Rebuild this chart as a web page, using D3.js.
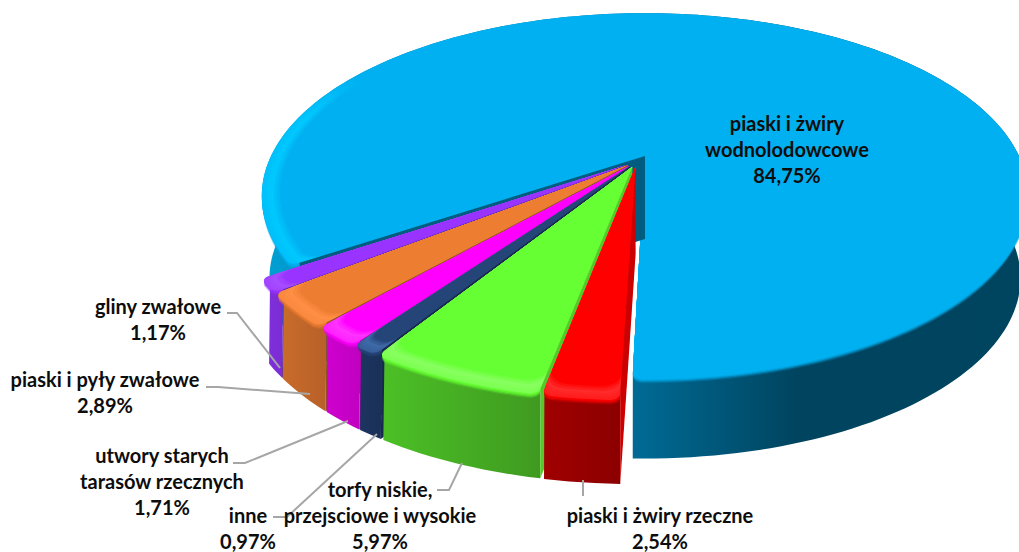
<!DOCTYPE html>
<html>
<head>
<meta charset="utf-8">
<script src="https://cdn.jsdelivr.net/npm/d3@7"></script>
<style>
  html, body { margin: 0; background: #fff; }
  text { font-family: Lato, "Open Sans", sans-serif; font-weight: 700; font-size: 20px; fill: #0d0d0d; }
</style>
</head>
<body>
<div id="chart"></div>
<script>
// clockwise from the front of the pie
const categories = [
  ['piaski i żwiry rzeczne'],
  ['torfy niskie,', 'przejsciowe i wysokie'],
  ['inne'],
  ['utwory starych', 'tarasów rzecznych'],
  ['piaski i pyły zwałowe'],
  ['gliny zwałowe'],
  ['piaski i żwiry', 'wodnolodowcowe']
];
const values = [2.54, 5.97, 0.97, 1.71, 2.89, 1.17, 84.75];
const valueLabels = ['2,54%', '5,97%', '0,97%', '1,71%', '2,89%', '1,17%', '84,75%'];
const topColors = ['#ff0000', '#66ff33', '#254579', '#ff00ff', '#ed7d31', '#9933ff', '#00b0f0'];
const rimColors = ['#ff2a2a', '#88ff60', '#3f6aa8', '#ff33ff', '#ff8f45', '#a64dff', '#00c8ff'];
const sideLeft = ['#a00000', '#4cc026', '#1c3560', '#d000d0', '#c96d2a', '#8230e0', '#00a0d4'];
const sideRight = ['#8c0000', '#3f9a20', '#1a3058', '#c000c0', '#b8602a', '#7a2cd0', '#004560'];
const wallColors = ['#cc0000', '#55c928', '#17294d', '#b000b0', '#8f5220', '#5a28a8', '#005d80'];

const width = 1019;
const height = 552;
const centre = { x: 645, y: 156 };
const rx = 374;
const ry = 174;
const tilt = 0.218;
const depth = 83;
const startAngle = 181.5 * Math.PI / 180;

const xScale = d3.scaleLinear().domain([0, 1]).range([centre.x, centre.x + rx]);
const yScale = d3.scaleLinear().domain([0, 1]).range([centre.y, centre.y + ry]);

function project(u, v, z) {
  const w = 1 - tilt * v;
  return [
    xScale(u / w * (1 - 0.02 * z)),
    yScale(v / w) + z * (depth - 3 * v)
  ];
}

const pie = d3.pie().sort(null).value(d => d).startAngle(startAngle).endAngle(startAngle + 2 * Math.PI);
const arcs = pie(values);
const last = arcs.length - 1;

// small slices are pulled out of the pie, each along its own middle
function origin(d, i) {
  if (i === last) return [0, 0];
  const mid = (d.startAngle + d.endAngle) / 2;
  return [-0.022 + 0.031 * Math.sin(mid), 0.032 - 0.031 * Math.cos(mid)];
}

function rimPoint(o, a, r) {
  return [o[0] + r * Math.sin(a), o[1] - r * Math.cos(a)];
}

const reach = i => i === last ? 1 : 1.012;
const footZ = i => i === last ? 1 : 1.05;

// rim of a slice in the pie plane, corners rounded by `round`
function rimOutline(d, i, r, round) {
  const o = origin(d, i);
  const span = d.endAngle - d.startAngle;
  const cut = Math.min(round / r, span / 3);
  const R = r * reach(i);
  const pts = [];
  const steps = Math.max(6, Math.round(span * 40));
  d3.range(0, 7).forEach(k => {
    const t = k / 6 * Math.PI / 2;
    pts.push(rimPoint(o, d.startAngle + cut - cut * Math.cos(t), R - round + round * Math.sin(t)));
  });
  d3.range(1, steps).forEach(k => {
    pts.push(rimPoint(o, d.startAngle + cut + (span - 2 * cut) * k / steps, R));
  });
  d3.range(0, 7).forEach(k => {
    const t = k / 6 * Math.PI / 2;
    pts.push(rimPoint(o, d.endAngle - cut + cut * Math.sin(t), R - round + round * Math.cos(t)));
  });
  return pts;
}

const line = d3.line();
const svg = d3.select('#chart').append('svg').attr('width', width).attr('height', height);
const defs = svg.append('defs');

arcs.forEach((d, i) => {
  const g = defs.append('linearGradient').attr('id', 'side' + i);
  g.append('stop').attr('offset', 0).attr('stop-color', sideLeft[i]);
  if (i === last) {
    g.append('stop').attr('offset', 0.1).attr('stop-color', '#0090c0');
    g.append('stop').attr('offset', 0.49).attr('stop-color', '#006a94');
    g.append('stop').attr('offset', 0.7).attr('stop-color', '#00445f');
  }
  g.append('stop').attr('offset', 1).attr('stop-color', sideRight[i]);
});

// rim band of the big slice only lights up on its left
function rimFill(i, mix) {
  const c = d3.interpolateRgb(topColors[i], rimColors[i])(mix);
  if (i !== last) return c;
  const id = 'bigrim' + Math.round(mix * 100);
  if (defs.select('#' + id).empty()) {
    const g = defs.append('linearGradient').attr('id', id);
    g.append('stop').attr('offset', 0).attr('stop-color', c);
    g.append('stop').attr('offset', 0.05).attr('stop-color', c);
    g.append('stop').attr('offset', 0.12).attr('stop-color', topColors[i]);
    g.append('stop').attr('offset', 1).attr('stop-color', topColors[i]);
  }
  return `url(#${id})`;
}

function facePath(d, i, r, round, z) {
  const o = origin(d, i);
  const pts = [o].concat(rimOutline(d, i, r, round)).map(p => project(p[0], p[1], z));
  return line(pts) + 'Z';
}

function drawSlice(d, i) {
  const o = origin(d, i);
  const round = 0.022;
  const zb = footZ(i);

  // outer side, rounded only at its top
  const rim = rimOutline(d, i, 1, round);
  const foot = rimOutline(d, i, 1, 0);
  const sidePath = rim.map(p => project(p[0], p[1], 0)).concat(foot.slice().reverse().map(p => project(p[0], p[1], zb)));
  svg.append('path').attr('d', line(sidePath) + 'Z').attr('fill', `url(#side${i})`);

  // soft edge from the side up to the top face
  [[0.06, 0.2], [0.045, 0.4], [0.03, 0.6], [0.015, 0.8]].forEach(s => {
    svg.append('path').attr('d', facePath(d, i, 1, round, s[0]))
      .attr('fill', topColors[i]).attr('fill-opacity', s[1]);
  });

  // rim, from the outer edge inward
  const layers = [1, 0.992, 0.985, 0.978, 0.97, 0.962, 0.955];
  const shade = d3.scaleLinear().domain([0, 0.5, 1]).range([0.7, 1, 0]);
  layers.forEach((r, k) => {
    const mix = k === layers.length - 1 ? 0 : shade(k / (layers.length - 1));
    svg.append('path')
      .attr('d', facePath(d, i, r, round + (1 - r) * 0.5, 0))
      .attr('fill', rimFill(i, mix));
  });

  // cut face towards the next slice
  const end = rimPoint(o, d.startAngle, reach(i) - round);
  const endFoot = rimPoint(o, d.startAngle, reach(i));
  svg.append('path')
    .attr('d', line([
      project(o[0], o[1], 0), project(end[0], end[1], 0),
      project(endFoot[0], endFoot[1], zb), project(o[0], o[1], zb)
    ]) + 'Z')
    .attr('fill', wallColors[i]);
}

// back to front
drawSlice(arcs[last], last);
[5, 4, 3, 2, 1, 0].forEach(i => drawSlice(arcs[i], i));

const leaders = [
  [[583, 480], [583, 496]],
  [[462, 463], [449, 490], [437, 490]],
  [[377, 434], [287, 517], [273, 517]],
  [[348, 421], [245, 463], [233, 463]],
  [[310, 394], [218, 387], [206, 387]],
  [[280, 368], [237, 313], [227, 313]]
];
leaders.forEach(pts => {
  svg.append('path').attr('d', line(pts)).attr('fill', 'none').attr('stroke', '#a6a6a6').attr('stroke-width', 2);
});

const labelPos = [
  [660, 523], [380, 497], [248, 523], [162, 463], [105, 387], [158, 314], [787, 131]
];
const lineGap = 26;
arcs.forEach((d, i) => {
  const lines = categories[i].concat(valueLabels[i]);
  const t = svg.append('text').attr('text-anchor', 'middle');
  lines.forEach((s, k) => {
    t.append('tspan').attr('x', labelPos[i][0]).attr('y', labelPos[i][1] + k * lineGap).text(s);
  });
});
</script>
</body>
</html>
